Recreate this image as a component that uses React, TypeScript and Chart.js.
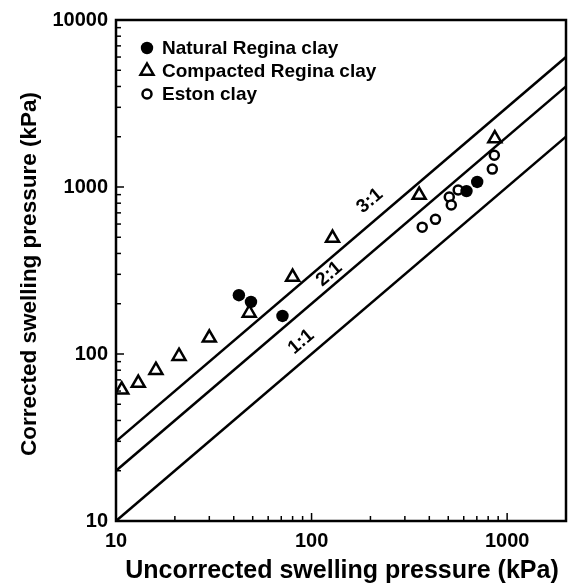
import React, { useEffect, useRef } from "react";
import { Chart, registerables } from "chart.js";

Chart.register(...registerables);

// ---- data ----
const naturalX = [42.5, 49, 71, 620, 703];
const naturalY = [225, 205, 169, 945, 1072];

const compactedX = [10.7, 13, 16, 21, 30, 48, 80, 128, 355, 865];
const compactedY = [61, 67, 80, 97, 125, 176, 289, 495, 895, 1950];

const estonX = [368, 430, 506, 518, 562, 840, 860];
const estonY = [575, 640, 871, 780, 959, 1280, 1550];

const ratioValues = [1, 2, 3];
const ratioLabels = ["1:1", "2:1", "3:1"];
const ratioLabelAt = [100, 134, 228];
const ratioLabelOffset = [16, 11, 18];
const lineXRange = [10, 2000];

const xTicks = [10, 100, 1000];
const yTicks = [10, 100, 1000, 10000];

const seriesNames = ["Natural Regina clay", "Compacted Regina clay", "Eston clay"];
const xTitle = "Uncorrected swelling pressure (kPa)";
const yTitle = "Corrected swelling pressure (kPa)";

const FONT = "'Liberation Sans', Arial, Helvetica, sans-serif";

function drawMarker(ctx: CanvasRenderingContext2D, kind: string, cx: number, cy: number) {
  ctx.save();
  ctx.strokeStyle = "#000";
  ctx.fillStyle = "#000";
  if (kind === "filled") {
    ctx.beginPath();
    ctx.arc(cx, cy, 6.2, 0, Math.PI * 2);
    ctx.fill();
  } else if (kind === "open") {
    ctx.lineWidth = 2.5;
    ctx.fillStyle = "#fff";
    ctx.beginPath();
    ctx.arc(cx, cy, 4.5, 0, Math.PI * 2);
    ctx.fill();
    ctx.stroke();
  } else {
    const r = 7.5;
    ctx.lineWidth = 2.5;
    ctx.fillStyle = "#fff";
    ctx.beginPath();
    ctx.moveTo(cx, cy - r);
    ctx.lineTo(cx + r * 0.866, cy + r * 0.5);
    ctx.lineTo(cx - r * 0.866, cy + r * 0.5);
    ctx.closePath();
    ctx.fill();
    ctx.stroke();
  }
  ctx.restore();
}

const annotate = {
  id: "annotate",
  afterDatasetsDraw(chart: any) {
    const { ctx, chartArea: a } = chart;
    const xs = chart.scales.x;
    const ys = chart.scales.y;
    ctx.save();
    // frame
    ctx.strokeStyle = "#000";
    ctx.lineWidth = 2.5;
    ctx.strokeRect(a.left, a.top, a.right - a.left, a.bottom - a.top);

    // inward ticks
    ctx.lineWidth = 1.5;
    for (let d = 10; d <= 1000; d *= 10) {
      for (let m = 1; m <= 9; m++) {
        const v = d * m;
        if (v < xs.min || v > xs.max) continue;
        const px = xs.getPixelForValue(v);
        const len = m === 1 ? 8 : 5;
        ctx.beginPath();
        ctx.moveTo(px, a.bottom);
        ctx.lineTo(px, a.bottom - len);
        ctx.stroke();
      }
    }
    for (let d = 10; d <= 10000; d *= 10) {
      for (let m = 1; m <= 9; m++) {
        const v = d * m;
        if (v < ys.min || v > ys.max) continue;
        const py = ys.getPixelForValue(v);
        const len = m === 1 ? 8 : 5;
        ctx.beginPath();
        ctx.moveTo(a.left, py);
        ctx.lineTo(a.left + len, py);
        ctx.stroke();
      }
    }

    // ratio line labels
    const theta = Math.atan2(
      ys.getPixelForValue(1000) - ys.getPixelForValue(100),
      xs.getPixelForValue(1000) - xs.getPixelForValue(100)
    );
    ctx.fillStyle = "#000";
    ctx.font = `bold 19px ${FONT}`;
    ctx.textAlign = "center";
    ctx.textBaseline = "middle";
    ratioLabels.forEach((t, i) => {
      const xv = ratioLabelAt[i];
      const off = ratioLabelOffset[i];
      const px = xs.getPixelForValue(xv);
      const py = ys.getPixelForValue(xv * ratioValues[i]);
      const cx = px + off * Math.sin(theta);
      const cy = py - off * Math.cos(theta);
      ctx.save();
      ctx.translate(cx, cy);
      ctx.rotate(theta);
      ctx.fillText(t, 0, 0);
      ctx.restore();
    });

    // legend
    const kinds = ["filled", "triangle", "open"];
    const lx = a.left + 31;
    const ly = a.top + 28;
    ctx.font = `bold 19px ${FONT}`;
    ctx.textAlign = "left";
    ctx.textBaseline = "middle";
    seriesNames.forEach((n, i) => {
      const yy = ly + i * 23;
      drawMarker(ctx, kinds[i], lx, yy);
      ctx.fillStyle = "#000";
      ctx.fillText(n, lx + 15, yy + 1);
    });

    // axis titles
    ctx.fillStyle = "#000";
    ctx.font = `bold 25px ${FONT}`;
    ctx.textAlign = "center";
    ctx.textBaseline = "middle";
    ctx.fillText(xTitle, 342, 571);
    ctx.save();
    ctx.translate(30, 274);
    ctx.rotate(-Math.PI / 2);
    ctx.font = `bold 22.5px ${FONT}`;
    ctx.fillText(yTitle, 0, 0);
    ctx.restore();

    ctx.restore();
  },
};

function pts(xv: number[], yv: number[]) {
  return xv.map((x, i) => ({ x, y: yv[i] }));
}

export default function App() {
  const ref = useRef<HTMLCanvasElement | null>(null);
  useEffect(() => {
    document.body.style.margin = "0";
    const canvas = ref.current;
    if (!canvas) return;
    const lineSets = ratioValues.map((r, i) => ({
      type: "line" as const,
      label: ratioLabels[i],
      data: lineXRange.map((x) => ({ x, y: x * r })),
      borderColor: "#000",
      borderWidth: 2.5,
      pointRadius: 0,
      fill: false,
      order: 5,
    }));
    const chart = new Chart(canvas, {
      type: "scatter",
      data: {
        datasets: [
          {
            label: seriesNames[0],
            data: pts(naturalX, naturalY),
            pointStyle: "circle",
            pointRadius: 6.2,
            backgroundColor: "#000",
            borderColor: "#000",
            borderWidth: 0,
            order: 0,
          },
          {
            label: seriesNames[2],
            data: pts(estonX, estonY),
            pointStyle: "circle",
            pointRadius: 4.5,
            backgroundColor: "#fff",
            borderColor: "#000",
            borderWidth: 2.5,
            order: 1,
          },
          {
            label: seriesNames[1],
            data: pts(compactedX, compactedY),
            pointStyle: "triangle",
            pointRadius: 7.5,
            backgroundColor: "#fff",
            borderColor: "#000",
            borderWidth: 2.5,
            order: 2,
          },
          ...lineSets,
        ] as any,
      },
      options: {
        animation: false,
        responsive: false,
        maintainAspectRatio: false,
        layout: { autoPadding: false, padding: { left: 0, top: 20, right: 2, bottom: 0 } },
        plugins: { legend: { display: false }, tooltip: { enabled: false } },
        scales: {
          x: {
            type: "logarithmic",
            min: 10,
            max: 2000,
            grid: { display: false, drawTicks: false },
            border: { display: false },
            afterBuildTicks: (s: any) => {
              s.ticks = xTicks.map((v) => ({ value: v }));
            },
            afterFit: (s: any) => {
              s.height = 64;
              s.paddingLeft = 0;
              s.paddingRight = 0;
            },
            ticks: {
              autoSkip: false,
              maxRotation: 0,
              padding: 8,
              color: "#000",
              font: { family: FONT, size: 20, weight: "bold" },
              callback: (v: any) => String(v),
            },
          },
          y: {
            type: "logarithmic",
            min: 10,
            max: 10000,
            grid: { display: false, drawTicks: false },
            border: { display: false },
            afterBuildTicks: (s: any) => {
              s.ticks = yTicks.map((v) => ({ value: v }));
            },
            afterFit: (s: any) => {
              s.width = 116;
              s.paddingTop = 0;
              s.paddingBottom = 0;
            },
            ticks: {
              autoSkip: false,
              padding: 8,
              color: "#000",
              font: { family: FONT, size: 20, weight: "bold" },
              callback: (v: any) => String(v),
            },
          },
        },
      } as any,
      plugins: [annotate],
    });
    return () => chart.destroy();
  }, []);
  return (
    <div style={{ width: 568, height: 585, background: "#fff" }}>
      <canvas ref={ref} width={568} height={585} style={{ display: "block" }} />
    </div>
  );
}
